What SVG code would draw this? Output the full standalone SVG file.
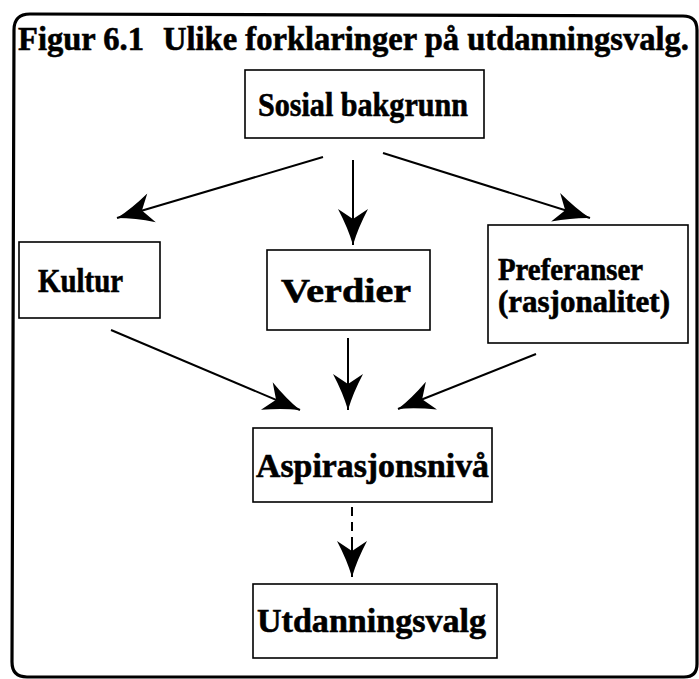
<svg xmlns="http://www.w3.org/2000/svg" width="699" height="679" viewBox="0 0 699 679">
  <style>
    .box { fill: #fff; stroke: #000; stroke-width: 1.6; }
    .lbl { font-family: "Liberation Serif", "Times New Roman", serif; font-weight: bold; font-size: 34px; fill: #000; stroke: #000; stroke-width: 0.6; }
    .small { font-size: 31px; }
    .edge { fill: none; stroke: #000; stroke-width: 2; }
    .dash { stroke-dasharray: 9 6; }
  </style>
  <defs>
    <marker id="head" markerUnits="userSpaceOnUse" markerWidth="40" markerHeight="34" viewBox="-38 -17 40 34" refX="0" refY="0" orient="auto">
      <path d="M0,0 Q-17,-5 -36,-15 L-26,0 L-36,15 Q-17,5 0,0 Z" fill="#000"/>
    </marker>
  </defs>

  <rect width="699" height="679" fill="#fff"/>

  <!-- outer frame -->
  <path d="M14,30 Q14,14 30,14 L683,16 Q697,16 697,30 L697,664 Q697,677 684,677 L27,677 Q12,677 12,662 Z" fill="none" stroke="#000" stroke-width="3.2"/>

  <g id="title">
    <text class="lbl" x="18" y="50" textLength="126" lengthAdjust="spacingAndGlyphs">Figur 6.1</text>
    <text class="lbl" x="163" y="50" textLength="526" lengthAdjust="spacingAndGlyphs">Ulike forklaringer på utdanningsvalg.</text>
  </g>

  <g id="sosial">
    <rect class="box" x="245" y="70" width="239" height="68"/>
    <text class="lbl" x="258" y="116" textLength="210" lengthAdjust="spacingAndGlyphs">Sosial bakgrunn</text>
  </g>

  <g id="kultur">
    <rect class="box" x="19" y="242" width="141" height="76"/>
    <text class="lbl" x="38" y="292" textLength="85" lengthAdjust="spacingAndGlyphs">Kultur</text>
  </g>

  <g id="verdier">
    <rect class="box" x="267" y="250" width="163" height="80"/>
    <text class="lbl" x="281" y="302" textLength="130" lengthAdjust="spacingAndGlyphs">Verdier</text>
  </g>

  <g id="preferanser">
    <rect class="box" x="488" y="225" width="200" height="118"/>
    <text class="lbl small" x="498" y="280" textLength="145" lengthAdjust="spacingAndGlyphs">Preferanser</text>
    <text class="lbl small" x="498" y="312" textLength="172" lengthAdjust="spacingAndGlyphs">(rasjonalitet)</text>
  </g>

  <g id="aspirasjon">
    <rect class="box" x="253" y="428" width="239" height="74"/>
    <text class="lbl" x="256" y="477" textLength="233" lengthAdjust="spacingAndGlyphs">Aspirasjonsnivå</text>
  </g>

  <g id="utdanning">
    <rect class="box" x="253" y="584" width="244" height="74"/>
    <text class="lbl" x="257" y="632" textLength="229" lengthAdjust="spacingAndGlyphs">Utdanningsvalg</text>
  </g>

  <g id="connectors">
    <line class="edge" x1="323" y1="157" x2="117" y2="218" marker-end="url(#head)"/>
    <line class="edge" x1="353" y1="160" x2="353" y2="245" marker-end="url(#head)"/>
    <line class="edge" x1="383" y1="153" x2="590" y2="218" marker-end="url(#head)"/>
    <line class="edge" x1="111" y1="330" x2="300" y2="410" marker-end="url(#head)"/>
    <line class="edge" x1="348" y1="338" x2="348" y2="410" marker-end="url(#head)"/>
    <line class="edge" x1="536" y1="354" x2="398" y2="409" marker-end="url(#head)"/>
    <line class="edge dash" x1="352" y1="507" x2="352" y2="545"/>
    <line class="edge" x1="352" y1="545" x2="352" y2="577" stroke-width="0" marker-end="url(#head)"/>
  </g>
</svg>
